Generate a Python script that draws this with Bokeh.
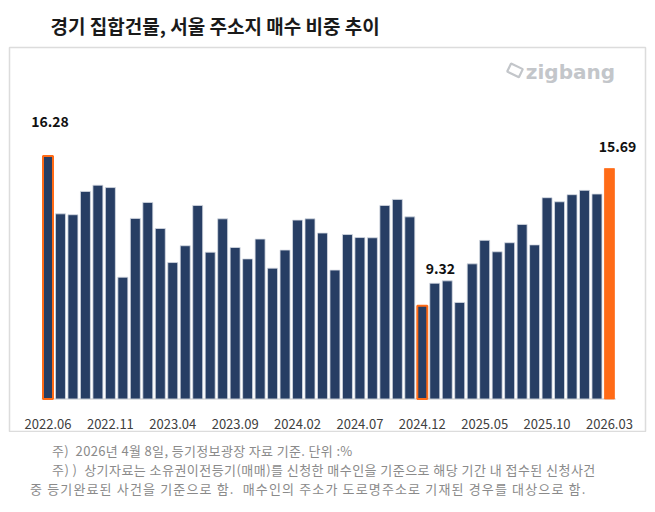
from bokeh.core.properties import value
from bokeh.embed import file_html
from bokeh.layouts import column
from bokeh.models import ColumnDataSource, Div, Range1d
from bokeh.plotting import figure
from bokeh.resources import INLINE

# monthly share (%) of Seoul-address buyers, 2022.06 .. 2026.03
shares = [16.28, 13.59, 13.55, 14.63, 14.92, 14.81, 10.65, 13.38, 14.12, 12.91,
          11.33, 12.11, 13.98, 11.81, 13.36, 12.03, 11.50, 12.42, 11.07, 11.91,
          13.30, 13.36, 12.70, 10.98, 12.63, 12.49, 12.48, 13.98, 14.26, 13.45,
          9.32, 10.37, 10.48, 9.48, 11.27, 12.36, 11.83, 12.25, 13.10, 12.15,
          14.34, 14.15, 14.48, 14.68, 14.51, 15.69]
tick_labels = ["2022.06", "2022.11", "2023.04", "2023.09", "2024.02",
               "2024.07", "2024.12", "2025.05", "2025.10", "2026.03"]
tick_step = 5

title = "경기 집합건물, 서울 주소지 매수 비중 추이"
notes = [
    "주)&nbsp; 2026년 4월 8일, 등기정보광장 자료 기준. 단위 :%",
    "주) )&nbsp; 상기자료는 소유권이전등기(매매)를 신청한 매수인을 기준으로 해당 기간 내 접수된 신청사건",
    "중 등기완료된 사건을 기준으로 함.&nbsp; 매수인의 주소가 도로명주소로 기재된 경우를 대상으로 함.",
]

NAVY = "#273e64"
ORANGE = "#ff6b17"
KR = "Noto Sans CJK KR"
BASE = 5

n = len(shares)
idx = list(range(n))
i_min = shares.index(min(shares))
outlined = {0, i_min}
filled = {n - 1}

src = ColumnDataSource(dict(
    x=idx, top=shares,
    fill=[ORANGE if i in filled else NAVY for i in idx],
    line=[ORANGE if (i in outlined or i in filled) else "#d5dae3" for i in idx],
    lw=[2 if i in outlined else 0.8 for i in idx],
))

p = figure(width=647, height=432, x_range=Range1d(-3.085, 47.89),
           y_range=Range1d(3.49, 21.31), output_backend="svg",
           toolbar_location=None, x_axis_location=None, y_axis_location=None,
           min_border_left=9, min_border_right=2, min_border_top=47,
           min_border_bottom=1, title=title)
p.xgrid.visible = False
p.ygrid.visible = False
p.outline_line_color = "#dcdcdc"
p.outline_line_width = 1.5
p.title.text_font = KR
p.title.text_font_size = "19px"
p.title.text_font_style = "bold"
p.title.text_color = "#1a1a1a"
p.title.offset = 41
p.title.standoff = 18

p.line([-0.5, n - 0.5], [BASE, BASE], line_color="#d9d9d9", line_width=1.5)
p.vbar(x="x", top="top", bottom=BASE, width=0.8, source=src,
       fill_color="fill", line_color="line", line_width="lw")

# value labels on first, minimum and latest month
lab_idx = [0, i_min, n - 1]
lab_src = ColumnDataSource(dict(
    x=lab_idx, y=[shares[i] for i in lab_idx],
    t=["%.2f" % shares[i] for i in lab_idx],
    dx=[2, 18, 8], dy=[-34, -37, -22],
))
p.text(x="x", y="y", text="t", x_offset="dx", y_offset="dy", source=lab_src,
       text_align="center", text_baseline="middle", text_font=value(KR),
       text_font_size="14px", text_font_style="bold", text_color="#111111")

# month labels inside the box
tick_x = list(range(0, n, tick_step))
p.text(x=tick_x, y=[3.85] * len(tick_x), text=tick_labels,
       text_align="center", text_baseline="middle", text_font=value(KR),
       text_font_size="13px", text_color="#404040")

# zigbang mark
p.rect(x=[37.43], y=[20.25], width=13, height=9, angle=-0.45,
       width_units="screen", height_units="screen", fill_color=None,
       line_color="#c3c6ca", line_width=2.2)
p.text(x=[38.3], y=[20.15], text=["zigbang"], text_baseline="alphabetic",
       text_font=value("DejaVu Sans"), text_font_size="20px",
       text_font_style="bold", text_color="#c3c6ca")

pads = [47, 47, 25]
spacing = ["0.35px", "0.45px", "1.15px"]
html = "".join('<div style="padding-left:%dpx; letter-spacing:%s">%s</div>'
               % (pad, ls, t) for pad, ls, t in zip(pads, spacing, notes))
div = Div(text=html, width=647, height=66,
          styles={"font-family": KR, "font-size": "13px", "color": "#8a8a8a",
                  "line-height": "19px", "padding-top": "4px"})

layout = column(p, div, spacing=0)
open("out.html", "w").write(file_html(layout, INLINE))
